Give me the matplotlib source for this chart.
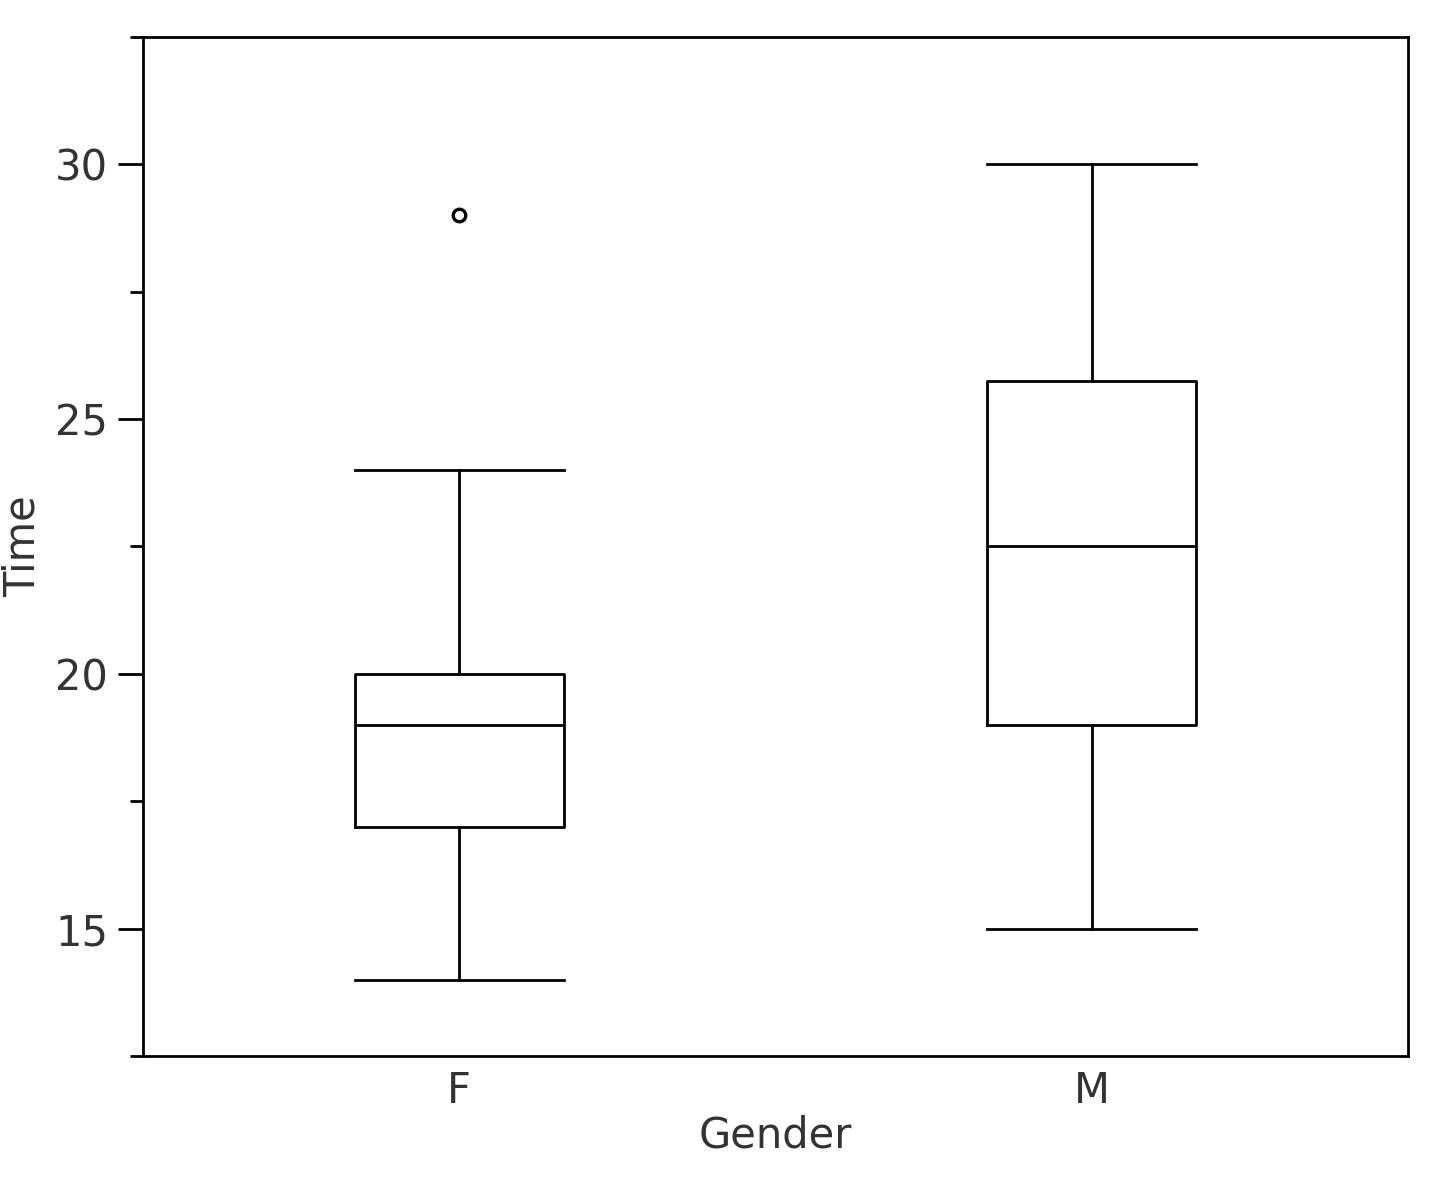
import matplotlib
matplotlib.use("Agg")
import matplotlib.pyplot as plt
from matplotlib.ticker import MultipleLocator

# box plot summary
groups = ["F", "M"]
whislo = [14, 15]
q1 = [17, 19]
med = [19, 22.5]
q3 = [20, 25.75]
whishi = [24, 30]
fliers = [[29], []]

stats = []
for i in range(len(groups)):
    stats.append(dict(label=groups[i], whislo=whislo[i], q1=q1[i], med=med[i],
                      q3=q3[i], whishi=whishi[i], fliers=fliers[i]))

plt.rcParams['font.family'] = ['DejaVu Sans']
txt = '#333333'
lw = 2.0

fig = plt.figure(figsize=(14.4, 11.77), dpi=100)
ax = fig.add_axes([0.0993, 0.1028, 0.8785, 0.8658])

line = dict(color='black', linewidth=lw)
ax.bxp(stats, positions=[1, 2], widths=0.33, showcaps=True,
       boxprops=line, whiskerprops=line, capprops=line, medianprops=line,
       flierprops=dict(marker='o', markersize=9, markerfacecolor='none',
                       markeredgecolor='black', markeredgewidth=2.4),
       capwidths=0.33)

ax.set_xlim(0.5, 2.5)
ax.set_ylim(12.5, 32.5)
ax.yaxis.set_major_locator(MultipleLocator(5))
ax.yaxis.set_minor_locator(MultipleLocator(2.5))
ax.tick_params(axis='y', which='major', length=18, width=lw, pad=7,
               labelsize=30, labelcolor=txt)
ax.tick_params(axis='y', which='minor', length=9.5, width=lw)
ax.tick_params(axis='x', length=0, pad=10, labelsize=30, labelcolor=txt)
for s in ax.spines.values():
    s.set_linewidth(lw)

ax.set_xlabel("Gender", fontsize=30, color=txt, labelpad=2)
ax.set_ylabel("Time", fontsize=30, color=txt, labelpad=8)

fig.savefig("out.png", dpi=100)
